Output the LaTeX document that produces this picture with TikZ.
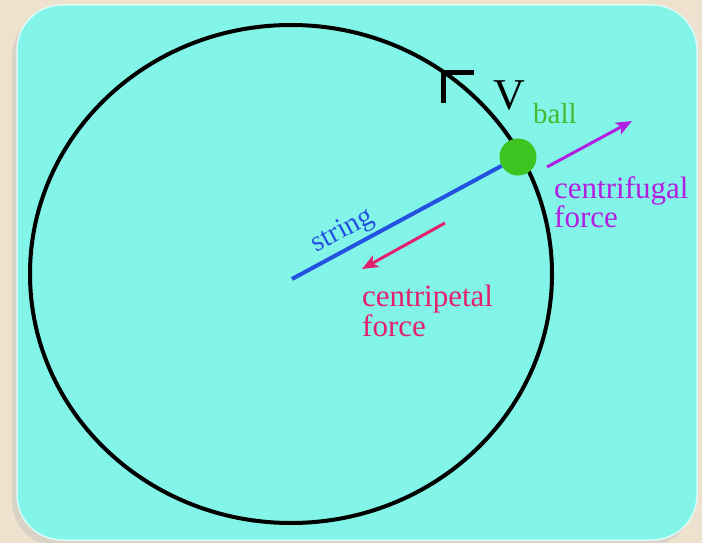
\documentclass[tikz,border=0pt]{standalone}
\usepackage{fontspec}
\setmainfont{Liberation Serif}
\usetikzlibrary{arrows.meta,shapes.geometric}
\definecolor{bgbeige}{HTML}{EEE2CF}
\definecolor{panel}{HTML}{82F4E8}
\definecolor{ballgreen}{HTML}{3EC420}
\definecolor{balltext}{HTML}{44BB30}
\definecolor{stringblue}{HTML}{2352E0}
\definecolor{fugal}{HTML}{B21FE0}
\definecolor{petal}{HTML}{E4206C}
\tikzset{
  lbl/.style={inner sep=0pt, align=left, font=\fontsize{31}{27.5}\selectfont},
  force/.style={line width=3pt, -{Stealth[length=16pt,width=13pt,inset=4pt]}},
}
\begin{document}
\begin{tikzpicture}[x=1pt,y=-1pt]
\useasboundingbox (0,0) rectangle (702,543);
\fill[bgbeige] (0,0) rectangle (702,543);
\fill[black!25, opacity=0.45, rounded corners=45pt] (12,11) rectangle (693,546);
\fill[panel, draw=white!70!panel, line width=1.5pt, rounded corners=45pt] (17,5) rectangle (697,540);
% orbit
\node[draw=black, line width=4pt, ellipse, minimum width=522pt, minimum height=498pt, inner sep=0pt] (orbit) at (291,274) {};
\coordinate (ctr) at (292,279);
% velocity mark
\coordinate (vtip) at (443,73);
\coordinate (varmA) at (474,73);
\coordinate (varmB) at (443,103);
\draw[line width=5pt] (varmA) -- (vtip) -- (varmB);
\node[inner sep=0pt, font=\fontsize{44}{44}\selectfont, anchor=base] (vlab) at (509,110) {V};
\node[inner sep=0pt, font=\fontsize{29}{29}\selectfont, text=balltext, anchor=base west] (balllab) at (533,123) {ball};
% string
\node[circle, fill=ballgreen, minimum size=37pt, inner sep=0pt] (ball) at (518,157) {};
\draw[stringblue, line width=4pt] (ctr) -- (ball);
\node[inner sep=0pt, font=\fontsize{29}{29}\selectfont, text=stringblue, rotate=28.2, anchor=base] (strlab) at (346,237) {string};
% centrifugal
\coordinate (cfA) at (547,167);
\coordinate (cfB) at (632,121);
\draw[force, fugal] (cfA) -- (cfB);
\node[lbl, text=fugal, anchor=north west] (cflab) at (554,176) {centrifugal\\force};
% centripetal
\coordinate (cpA) at (445,223);
\coordinate (cpB) at (362,269);
\draw[force, petal] (cpA) -- (cpB);
\node[lbl, text=petal, anchor=north west] (cplab) at (362,285) {centripetal\\force};
\end{tikzpicture}
\end{document}
